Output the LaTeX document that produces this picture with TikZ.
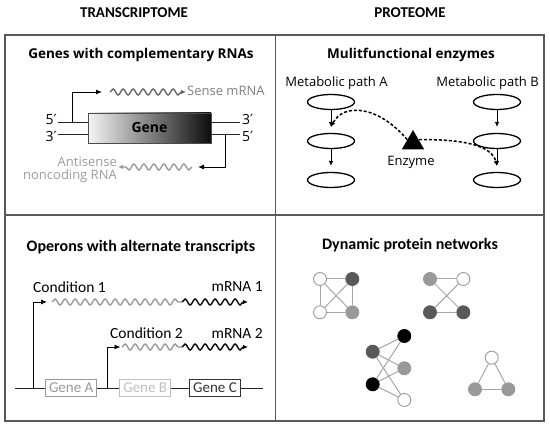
\documentclass[tikz,border=0pt]{standalone}
\usepackage{fontspec}
\setmainfont{Carlito}
\newfontfamily\osans{Open Sans}
\newfontfamily\djv{DejaVu Sans}
\usetikzlibrary{arrows.meta,decorations.pathmorphing,shapes.geometric}
\begin{document}
\begin{tikzpicture}[x=1pt,y=-1pt,
  every node/.style={inner sep=0pt},
  frameline/.style={draw=black!65,line width=1.3pt},
  header/.style={font=\fontsize{15}{18}\selectfont\bfseries},
  titleA/.style={font=\osans\fontsize{13.5}{16}\selectfont\bfseries},
  titleB/.style={font=\fontsize{16}{19}\selectfont\bfseries},
  txtA/.style={font=\osans\fontsize{13}{13.5}\selectfont},
  txtB/.style={font=\fontsize{15.5}{18}\selectfont},
  primetxt/.style={font=\osans\fontsize{14}{16}\selectfont},
  strand/.style={draw=black!85,line width=0.9pt},
  arr/.style={line width=0.9pt,-{Latex[length=6pt,width=5pt]}},
  smallarr/.style={-{Latex[length=5pt,width=4.5pt]}},
  wave/.style={decorate,decoration={snake,segment length=10pt,amplitude=3pt},line width=1.4pt},
  wavearr/.style={decorate,decoration={snake,segment length=10pt,amplitude=3pt,post length=3pt},line width=1.4pt,-{Latex[length=5pt,width=4.5pt]}},
  ell/.style={ellipse,draw,line width=1.3pt,minimum width=47pt,minimum height=15pt},
  dashline/.style={dash pattern=on 3pt off 2pt,line width=1.5pt},
  genebox/.style={draw,fill=white,line width=1pt,minimum width=51pt,minimum height=17pt,font=\fontsize{15}{18}\selectfont},
  pn/.style={circle,minimum size=13pt,inner sep=0pt,line width=0.9pt},
  wn/.style={pn,draw=black!40,fill=white},
  dgn/.style={pn,draw=black!65,fill=black!65},
  mgn/.style={pn,draw=black!40,fill=black!40},
  bkn/.style={pn,draw=black,fill=black},
  netedge/.style={draw=black!35,line width=1pt}
]
\useasboundingbox (0,0) rectangle (550,427);
\fill[white] (0,0) rectangle (550,427);

% frame
\draw[frameline] (5,35) rectangle (544,421);
\draw[frameline] (275.5,35) -- (275.5,421);
\draw[frameline] (5,215) -- (544,215);

% headers
\node[header] (hT) at (134,13) {TRANSCRIPTOME};
\node[header] (hP) at (410,13) {PROTEOME};

% ---------- Panel 1 ----------
\node[titleA] (t1) at (141,55) {Genes with complementary RNAs};
\node[draw=black!70,line width=0.8pt,left color=black!4,right color=black!95,
      minimum width=123pt,minimum height=30pt,font=\osans\fontsize{14}{16}\selectfont\bfseries] (gene) at (149.5,128) {Gene};
\coordinate (L5) at (58,122); \coordinate (L3) at (58,134);
\coordinate (R3) at (240,122); \coordinate (R5) at (240,134);
\draw[strand] (L5) -- (L5 -| gene.west);
\draw[strand] (L3) -- (L3 -| gene.west);
\draw[strand] (R3 -| gene.east) -- (R3);
\draw[strand] (R5 -| gene.east) -- (R5);
\node[primetxt,anchor=east] (p5l) at (57,119) {5{\djv ′}};
\node[primetxt,anchor=east] (p3l) at (57,136) {3{\djv ′}};
\node[primetxt,anchor=west] (p3r) at (242,119) {3{\djv ′}};
\node[primetxt,anchor=west] (p5r) at (242,136.5) {5{\djv ′}};
% sense
\coordinate (sp0) at (72,122); \coordinate (sp1) at (102,92);
\draw[arr] (sp0) |- (sp1);
\coordinate (sw0) at (110,92); \coordinate (sw1) at (186,92);
\draw[wavearr,draw=black!60] (sw0) -- (sw1);
\node[txtA,text=black!50,anchor=west] (sense) at (187,91) {Sense mRNA};
% antisense
\coordinate (ap0) at (225,134); \coordinate (ap1) at (198,167);
\draw[arr] (ap0) |- (ap1);
\coordinate (aw0) at (192,167); \coordinate (aw1) at (118,167);
\draw[wavearr,draw=black!40] (aw0) -- (aw1);
\node[txtA,text=black!38,anchor=east,align=right] (anti) at (117,170) {Antisense\\noncoding RNA};

% ---------- Panel 2 ----------
\node[titleA] (t2) at (411,55) {Mulitfunctional enzymes};
\node[txtA] (mpA) at (336.5,83) {Metabolic path A};
\node[txtA] (mpB) at (487.5,83) {Metabolic path B};
\node[ell] (a1) at (331,102) {};
\node[ell] (a2) at (331,141) {};
\node[ell] (a3) at (331,180) {};
\node[ell] (b1) at (497,102) {};
\node[ell] (b2) at (497,141) {};
\node[ell] (b3) at (497,180) {};
\coordinate (ta1) at (331,127); \coordinate (ta2) at (331,166);
\coordinate (tb1) at (497,127); \coordinate (tb2) at (497,166);
\draw[smallarr,line width=0.9pt] (a1) -- (ta1);
\draw[smallarr,line width=0.9pt] (a2) -- (ta2);
\draw[smallarr,line width=0.9pt] (b1) -- (tb1);
\draw[smallarr,line width=0.9pt] (b2) -- (tb2);
\node[regular polygon,regular polygon sides=3,fill=black,minimum size=26pt] (enz) at (413,143) {};
\node[txtA] (enzl) at (411,162) {Enzyme};
\draw[dashline,smallarr] (enz.side 1) .. controls (378,105) and (343,103) .. (ta1);
\draw[dashline,smallarr] (enz.side 3) .. controls (465,139) and (492,146) .. (tb2);

% ---------- Panel 3 ----------
\node[titleB] (t3) at (141,247) {Operons with alternate transcripts};
\node[txtB,anchor=west] (c1) at (33,287) {Condition 1};
\node[txtB,anchor=east] (m1) at (263,287) {mRNA 1};
\node[txtB,anchor=west] (c2) at (110,333) {Condition 2};
\node[txtB,anchor=east] (m2) at (263,333) {mRNA 2};
\coordinate (bl0) at (15,388); \coordinate (bl1) at (263,388);
\draw[strand] (bl0) -- (bl1);
\node[genebox,draw=black!40,text=black!40] (gA) at (71.2,388) {Gene A};
\node[genebox,draw=black!25,text=black!25] (gB) at (145.2,388) {Gene B};
\node[genebox,draw=black!80,text=black!80] (gC) at (215,388) {Gene C};
\coordinate (pr1a) at (33.3,388); \coordinate (pr1b) at (47,302);
\draw[arr] (pr1a) |- (pr1b);
\coordinate (pr2a) at (107.3,388); \coordinate (pr2b) at (120.5,347);
\draw[arr] (pr2a) |- (pr2b);
\coordinate (w1a) at (52,302); \coordinate (w1b) at (182,302); \coordinate (w1c) at (248,302);
\draw[wave,draw=black!40] (w1a) -- (w1b);
\draw[wavearr,draw=black] (w1b) -- (w1c);
\coordinate (w2a) at (122,347); \coordinate (w2b) at (182,347); \coordinate (w2c) at (248,347);
\draw[wave,draw=black!40] (w2a) -- (w2b);
\draw[wavearr,draw=black] (w2b) -- (w2c);

% ---------- Panel 4 ----------
\node[titleB] (t4) at (410,245) {Dynamic protein networks};
% net 1
\node[wn] (n1a) at (320,279) {};
\node[dgn] (n1b) at (352.3,279) {};
\node[wn] (n1c) at (320,312.3) {};
\node[mgn] (n1d) at (352.3,312.3) {};
\draw[netedge] (n1a) -- (n1b);
\draw[netedge] (n1c) -- (n1d);
\draw[netedge] (n1a) -- (n1c);
\draw[netedge] (n1b) -- (n1d);
\draw[netedge] (n1a) -- (n1d);
\draw[netedge] (n1b) -- (n1c);
% net 2
\node[mgn] (n2a) at (430,279) {};
\node[wn] (n2b) at (463.3,279) {};
\node[dgn] (n2c) at (430,312.3) {};
\node[dgn] (n2d) at (463.3,312.3) {};
\draw[netedge] (n2a) -- (n2b);
\draw[netedge] (n2c) -- (n2d);
\draw[netedge] (n2a) -- (n2d);
\draw[netedge] (n2b) -- (n2c);
% net 3
\node[bkn] (n3a) at (404.3,336) {};
\node[dgn] (n3b) at (372.7,351.7) {};
\node[mgn] (n3c) at (404.3,368.3) {};
\node[bkn] (n3d) at (372.7,384.3) {};
\node[wn] (n3e) at (404.3,400) {};
\draw[netedge] (n3b) -- (n3a);
\draw[netedge] (n3b) -- (n3c);
\draw[netedge] (n3b) -- (n3e);
\draw[netedge] (n3d) -- (n3a);
\draw[netedge] (n3d) -- (n3c);
\draw[netedge] (n3d) -- (n3e);
% net 4
\node[wn] (n4a) at (491.7,357.7) {};
\node[mgn] (n4b) at (475,389.3) {};
\node[mgn] (n4c) at (508.3,389.3) {};
\draw[netedge] (n4a) -- (n4b);
\draw[netedge] (n4b) -- (n4c);
\draw[netedge] (n4c) -- (n4a);
\end{tikzpicture}
\end{document}
